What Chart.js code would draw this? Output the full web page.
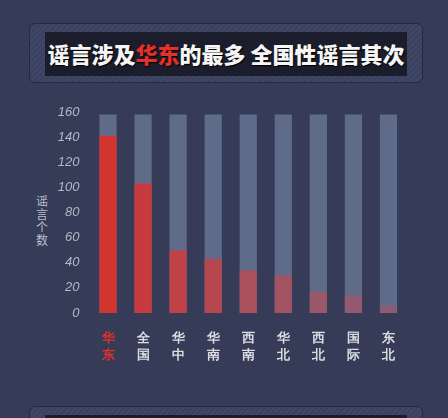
<!DOCTYPE html>
<html>
<head>
<meta charset="utf-8">
<script src="https://cdn.jsdelivr.net/npm/chart.js@4/dist/chart.umd.min.js"></script>
<style>
  html, body { margin: 0; padding: 0; }
  body {
    width: 448px; height: 418px; overflow: hidden; position: relative;
    background: #363c57;
    font-family: "Noto Sans CJK SC", "Noto Sans", sans-serif;
  }
  .panel {
    position: absolute; left: 29px; width: 392px;
    border: 1px solid #262a3e; border-radius: 6px;
    background: repeating-linear-gradient(135deg, #3f4765 0 2px, #394060 2px 4px);
  }
  .panel .inner {
    position: absolute; left: 15px; right: 15px;
    background: #1b1c2c;
  }
  #title { top: 23px; height: 58px; }
  #title .inner {
    top: 8px; bottom: 6px;
    color: #f6f6f6; font-size: 22px; font-weight: 900;
    text-align: center; line-height: 43px; white-space: nowrap;
    text-shadow: 1px 1px 1px #000;
  }
  #title .inner span { color: #e3302b; }
  #bottom { top: 406px; height: 40px; }
  #bottom .inner { top: 8px; bottom: 0; }
  #ylabel {
    position: absolute; left: 35px; top: 194px; width: 14px;
    color: #b9bdcc; font-size: 12px; line-height: 13px; text-align: center;
  }
  #wrap { position: absolute; left: 0; top: 100px; width: 448px; height: 270px; }
</style>
</head>
<body>
<div class="panel" id="title"><div class="inner">谣言涉及<span>华东</span>的最多 全国性谣言其次</div></div>
<div id="ylabel">谣<br>言<br>个<br>数</div>
<div id="wrap"><canvas id="plot"></canvas></div>
<div class="panel" id="bottom"><div class="inner"></div></div>
<script>
const regions = [['华','东'], ['全','国'], ['华','中'], ['华','南'], ['西','南'], ['华','北'], ['西','北'], ['国','际'], ['东','北']];
const rumorCounts = [141, 103, 50, 43, 34, 30, 17, 14, 6];
const fullScale = [158, 158, 158, 158, 158, 158, 158, 158, 158];
const yTicks = [0, 20, 40, 60, 80, 100, 120, 140, 160];
const barColors = ['#d23430', '#c93a3e', '#c04147', '#b7474f', '#aa4f5c', '#a35261', '#9a576a', '#94596e', '#8b5d73'];

const ctx = document.getElementById('plot').getContext('2d');
const myChart = new Chart(ctx, {
    type: 'bar',
    data: {
        labels: regions,
        datasets: [{
            label: '谣言个数',
            data: rumorCounts,
            backgroundColor: barColors,
            barPercentage: 0.49,
            categoryPercentage: 1
        }, {
            label: 'max',
            data: fullScale,
            backgroundColor: '#5f6c89',
            barPercentage: 0.49,
            categoryPercentage: 1
        }]
    },
    options: {
        responsive: true,
        maintainAspectRatio: false,
        animation: false,
        layout: { padding: { left: 0, right: 42, top: 12, bottom: 0 } },
        plugins: { legend: { display: false }, tooltip: { enabled: false } },
        scales: {
            x: {
                stacked: true,
                grid: { display: false },
                border: { display: false },
                ticks: {
                    padding: 9,
                    font: { size: 13, weight: 'bold', lineHeight: 1.3 },
                    color: c => c.index === 0 ? '#e3302b' : '#dcdde3'
                },
                afterFit: scale => { scale.height = 57; }
            },
            y: {
                stacked: false,
                min: 0,
                max: 160,
                grid: { display: false },
                border: { display: false },
                afterBuildTicks: scale => { scale.ticks = yTicks.map(v => ({ value: v })); },
                ticks: {
                    padding: 3,
                    font: { size: 13, style: 'italic' },
                    color: '#b3b7c7'
                },
                afterFit: scale => { scale.width = 90.5; }
            }
        }
    }
});
</script>
</body>
</html>
